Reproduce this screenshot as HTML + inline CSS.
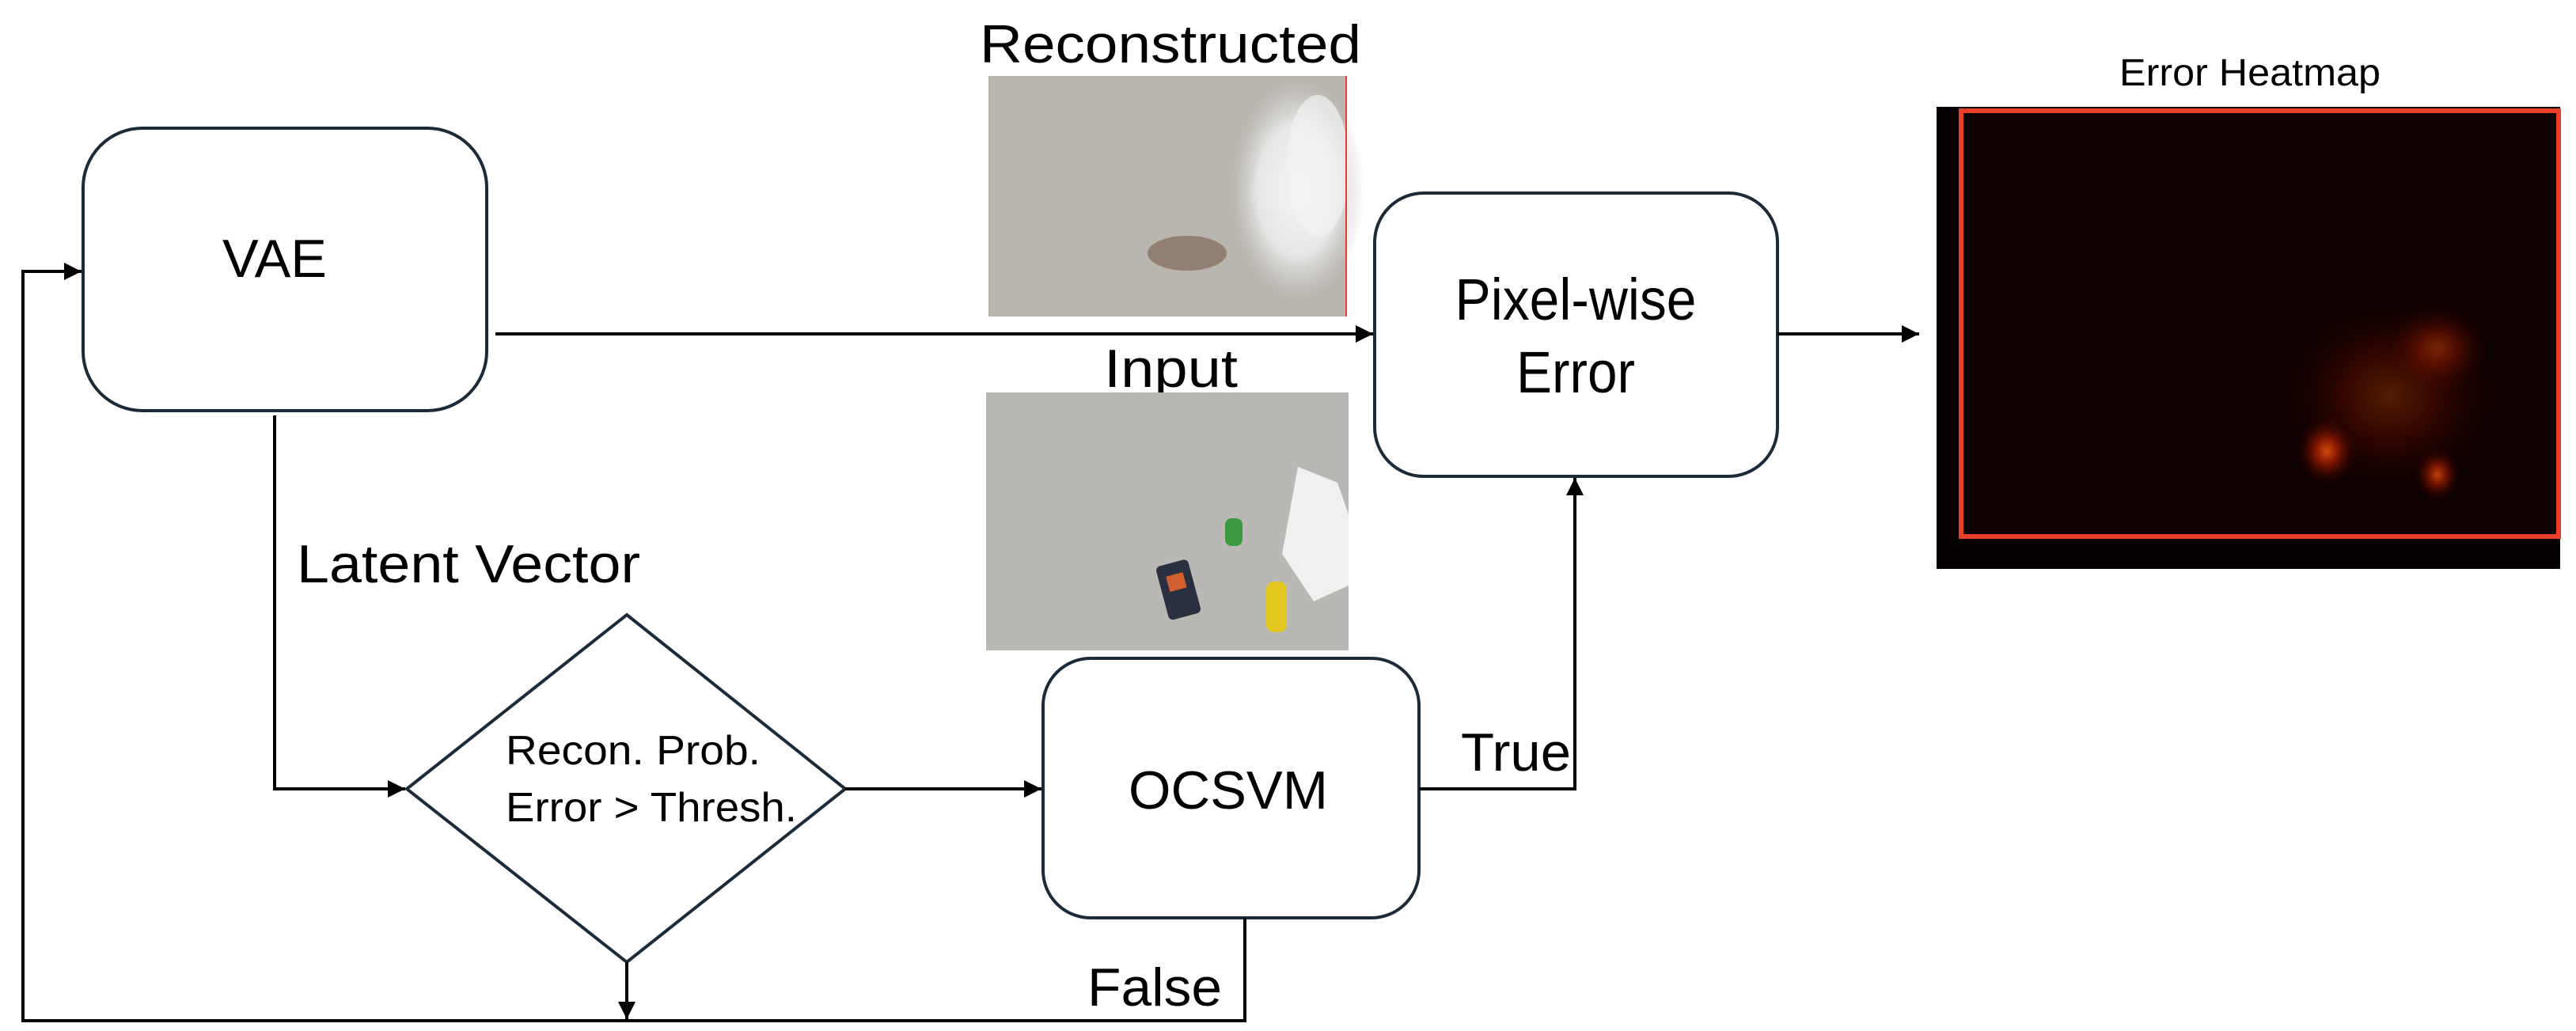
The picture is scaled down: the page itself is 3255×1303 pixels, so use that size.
<!DOCTYPE html>
<html><head><meta charset="utf-8"><style>html,body{margin:0;padding:0;background:#fff}svg{display:block}</style></head>
<body>
<svg width="3255" height="1303" viewBox="0 0 3255 1303" xmlns="http://www.w3.org/2000/svg" font-family="Liberation Sans, sans-serif">
<defs>
<marker id="a" viewBox="0 0 10 10" refX="10" refY="5" markerWidth="22" markerHeight="22" markerUnits="userSpaceOnUse" orient="auto"><path d="M0,0 L10,5 L0,10 z" fill="#000"/></marker>
<radialGradient id="blob" cx="0.5" cy="0.5" r="0.5"><stop offset="0" stop-color="#f4f4f4"/><stop offset="0.6" stop-color="#e6e6e6"/><stop offset="1" stop-color="#d0cec9" stop-opacity="0"/></radialGradient>
<radialGradient id="heat" cx="0.5" cy="0.5" r="0.5"><stop offset="0" stop-color="#ff5a10"/><stop offset="0.35" stop-color="#a01c00"/><stop offset="1" stop-color="#200000" stop-opacity="0"/></radialGradient>
</defs>

<rect x="105" y="162" width="510" height="357" rx="75" fill="#fff" stroke="#1c2b39" stroke-width="4"/>
<rect x="1737" y="244" width="509" height="358" rx="62" fill="#fff" stroke="#1c2b39" stroke-width="4"/>
<rect x="1318" y="832" width="475" height="328" rx="60" fill="#fff" stroke="#1c2b39" stroke-width="4"/>
<polygon points="792,777 1068,997 792,1216 514,997" fill="#fff" stroke="#1c2b39" stroke-width="4"/>

<g stroke="#000" stroke-width="4" fill="none">
<line x1="626" y1="422" x2="1735" y2="422" marker-end="url(#a)"/>
<line x1="2246" y1="422" x2="2425" y2="422" marker-end="url(#a)"/>
<polyline points="347,525 347,997 512,997" marker-end="url(#a)"/>
<line x1="1068" y1="997" x2="1316" y2="997" marker-end="url(#a)"/>
<polyline points="1793,997 1990,997 1990,604" marker-end="url(#a)"/>
<line x1="792" y1="1216" x2="792" y2="1288" marker-end="url(#a)"/>
<polyline points="1573,1160 1573,1290 29,1290 29,343 103,343" marker-end="url(#a)"/>
</g>

<g fill="#000" font-size="68">
<text x="347" y="350" text-anchor="middle" textLength="132" lengthAdjust="spacingAndGlyphs">VAE</text>
<text x="1991" y="404" text-anchor="middle" textLength="305" lengthAdjust="spacingAndGlyphs" font-size="74">Pixel-wise</text>
<text x="1991" y="496" text-anchor="middle" textLength="150" lengthAdjust="spacingAndGlyphs" font-size="74">Error</text>
<text x="1552" y="1022" text-anchor="middle" textLength="252" lengthAdjust="spacingAndGlyphs">OCSVM</text>
<text x="375" y="736" textLength="434" lengthAdjust="spacingAndGlyphs">Latent Vector</text>
<text x="1846" y="974" textLength="139" lengthAdjust="spacingAndGlyphs">True</text>
<text x="1374" y="1271" textLength="170" lengthAdjust="spacingAndGlyphs">False</text>
<text x="1238" y="79" textLength="482" lengthAdjust="spacingAndGlyphs">Reconstructed</text>
<text x="1395" y="489" textLength="169" lengthAdjust="spacingAndGlyphs">Input</text>
</g>
<g fill="#000" font-size="52">
<text x="639" y="966" textLength="322" lengthAdjust="spacingAndGlyphs">Recon. Prob.</text>
<text x="639" y="1038" textLength="368" lengthAdjust="spacingAndGlyphs">Error &gt; Thresh.</text>
</g>
<text x="2843" y="108" font-size="48" text-anchor="middle" textLength="330" lengthAdjust="spacingAndGlyphs">Error Heatmap</text>

<!-- Reconstructed image -->
<rect x="1249" y="96" width="452" height="304" fill="#b9b6b0"/>
<ellipse cx="1640" cy="240" rx="85" ry="140" fill="url(#blob)"/>
<ellipse cx="1665" cy="210" rx="40" ry="90" fill="#f2f2f2" opacity="0.7"/>
<ellipse cx="1500" cy="320" rx="50" ry="22" fill="#6b4a3a" opacity="0.5"/>
<line x1="1701" y1="96" x2="1701" y2="400" stroke="#e04030" stroke-width="2"/>

<!-- Input image -->
<rect x="1246" y="496" width="458" height="326" fill="#b9b8b4"/>
<path d="M1640,590 L1690,610 L1704,650 L1704,740 L1660,760 L1620,700 Z" fill="#f0f0f0"/>
<rect x="1468" y="710" width="42" height="70" rx="6" fill="#2a3040" transform="rotate(-15 1490 745)"/>
<rect x="1478" y="725" width="22" height="20" fill="#d06030" transform="rotate(-15 1490 745)"/>
<rect x="1548" y="655" width="22" height="35" rx="8" fill="#3a9a40"/>
<rect x="1600" y="735" width="26" height="64" rx="10" fill="#e4c820"/>

<!-- Heatmap -->
<rect x="2447" y="135" width="788" height="584" fill="#060000"/>
<rect x="2478" y="140" width="755" height="538" fill="#0c0000" stroke="#e8402a" stroke-width="6"/>
<ellipse cx="3020" cy="500" rx="150" ry="130" fill="url(#heat)" opacity="0.3"/>
<ellipse cx="2940" cy="570" rx="40" ry="45" fill="url(#heat)" opacity="0.8"/>
<ellipse cx="3080" cy="600" rx="30" ry="35" fill="url(#heat)" opacity="0.7"/>
<ellipse cx="3080" cy="440" rx="70" ry="60" fill="url(#heat)" opacity="0.4"/>
</svg>
</body></html>
